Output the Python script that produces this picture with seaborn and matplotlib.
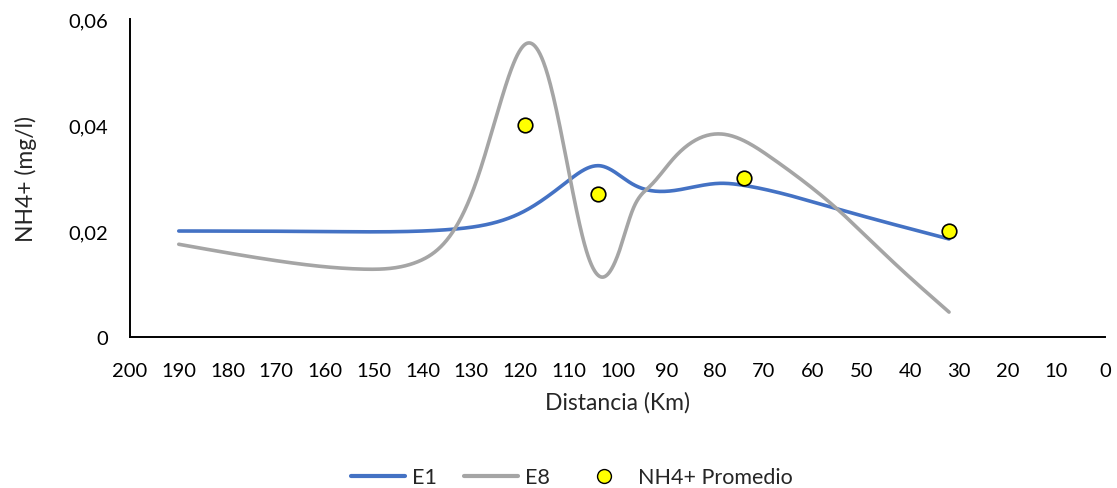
import numpy as np
import pandas as pd
import matplotlib
matplotlib.use("Agg")
import matplotlib.pyplot as plt
import seaborn as sns
from matplotlib.lines import Line2D
from matplotlib.ticker import FuncFormatter

# ---- data ----
e1_x = [190, 160, 140, 133, 124, 119, 110.5, 103.5, 97, 92, 79, 74, 55, 32]
e1_y = [0.0200, 0.0199, 0.0200, 0.0204, 0.0219, 0.0238, 0.0292, 0.0323, 0.0289, 0.0275, 0.0290, 0.0286, 0.0242, 0.0185]

e8_x = [190, 170, 152, 141, 133, 128.8, 124, 119, 114.5, 109.7, 106.3, 103, 99.5, 96.8, 93.3, 88.6, 78.6, 68.1, 55, 44.1, 32]
e8_y = [0.0175, 0.0144, 0.0128, 0.0142, 0.0210, 0.0298, 0.0443, 0.0552, 0.0500, 0.0298, 0.0160, 0.0113, 0.0166,
        0.0242, 0.0285, 0.0336, 0.0383, 0.0336, 0.0242, 0.0147, 0.0047]

prom_x = [119, 104, 74, 32]
prom_y = [0.040, 0.027, 0.030, 0.020]

x_ticks = list(range(200, -1, -10))
y_ticks = [0, 0.02, 0.04, 0.06]


def spline_smooth(xs, ys, n=40):
    """Natural cubic spline through the points (as a smoothed line)."""
    x = np.asarray(xs, float)
    y = np.asarray(ys, float)
    o = np.argsort(x)
    x, y = x[o], y[o]
    N = len(x)
    h = np.diff(x)
    A = np.zeros((N, N))
    b = np.zeros(N)
    A[0, 0] = A[-1, -1] = 1
    for i in range(1, N - 1):
        A[i, i - 1] = h[i - 1]
        A[i, i] = 2 * (h[i - 1] + h[i])
        A[i, i + 1] = h[i]
        b[i] = 6 * ((y[i + 1] - y[i]) / h[i] - (y[i] - y[i - 1]) / h[i - 1])
    M = np.linalg.solve(A, b)
    xo, yo = [], []
    for i in range(N - 1):
        t = np.linspace(x[i], x[i + 1], n)
        if i > 0:
            t = t[1:]
        a = x[i + 1] - t
        c = t - x[i]
        yy = (M[i] * a ** 3 + M[i + 1] * c ** 3) / (6 * h[i]) \
            + (y[i] / h[i] - M[i] * h[i] / 6) * a + (y[i + 1] / h[i] - M[i + 1] * h[i] / 6) * c
        xo.append(t)
        yo.append(yy)
    return np.concatenate(xo), np.concatenate(yo)


sns.set_theme(style="white")
plt.rcParams['font.family'] = ['Lato', 'DejaVu Sans']

fig = plt.figure(figsize=(11.17, 4.89), dpi=100)
ax = fig.add_axes([0.1164, 0.3088, 0.8729, 0.6502])

sx1, sy1 = spline_smooth(e1_x, e1_y)
sx8, sy8 = spline_smooth(e8_x, e8_y)
d1 = pd.DataFrame({"x": sx1, "y": sy1})
d8 = pd.DataFrame({"x": sx8, "y": sy8})

sns.lineplot(data=d1, x="x", y="y", sort=False, estimator=None, color="#4472C4", lw=2.6, ax=ax)
sns.lineplot(data=d8, x="x", y="y", sort=False, estimator=None, color="#A5A5A5", lw=2.6, ax=ax)
sns.scatterplot(x=prom_x, y=prom_y, color="#FFFF00", edgecolor="black", linewidth=1.2, s=110, ax=ax, zorder=5)

ax.set_xlim(200, 0)
ax.set_ylim(0, 0.06)
ax.set_xticks(x_ticks)
ax.set_xticklabels([str(v) for v in x_ticks])
ax.set_yticks(y_ticks)
ax.yaxis.set_major_formatter(FuncFormatter(lambda v, p: "0" if v == 0 else f"{v:.2f}".replace(".", ",")))
ax.tick_params(axis="both", length=0, labelsize=14.5, colors="black")
ax.tick_params(axis="x", pad=18)
ax.tick_params(axis="y", pad=16)

for s in ["top", "right"]:
    ax.spines[s].set_visible(False)
for s in ["left", "bottom"]:
    ax.spines[s].set_color("black")
    ax.spines[s].set_linewidth(1.4)

ax.set_xlabel("Distancia (Km)", fontsize=16.5, labelpad=9)
ax.set_ylabel("NH4+ (mg/l)", fontsize=16.5, labelpad=22)

handles = [
    Line2D([0], [0], color="#4472C4", lw=3),
    Line2D([0], [0], color="#A5A5A5", lw=3),
    Line2D([0], [0], marker="o", color="none", markerfacecolor="#FFFF00", markeredgecolor="black", markersize=10),
]
fig.legend(handles, ["E1", "E8", "NH4+ Promedio"], loc="center", bbox_to_anchor=(0.512, 0.022),
           ncol=3, frameon=False, fontsize=15.5, handlelength=2.5, columnspacing=1.3, handletextpad=0.3)

fig.savefig("out.png", dpi=100)
